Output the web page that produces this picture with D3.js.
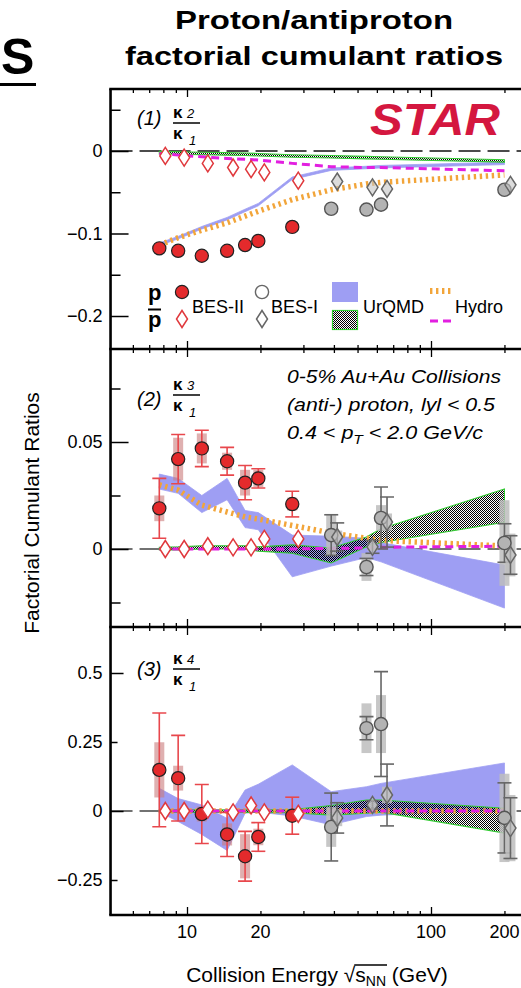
<!DOCTYPE html>
<html><head><meta charset="utf-8">
<script src="https://cdn.jsdelivr.net/npm/d3@7"></script>
<style>
html,body{margin:0;padding:0;background:#fff;}
svg{display:block;}
text{font-family:'Liberation Sans',Arial,Helvetica,sans-serif;}
</style></head><body>
<svg id="chart" width="521" height="988"></svg>
<script>
// ---------------- DATA ----------------
const energyBES2 = [7.7, 9.2, 11.5, 14.6, 17.3, 19.6, 27];
const energyBES1 = [39, 54.4, 62.4, 200];
const energyModel = [7.7, 9.2, 11.5, 14.6, 17.3, 19.6, 27, 39, 54.4, 62.4, 200];
const xMajorTicks = [10, 100];
const xMinorTicks = [6, 7, 8, 9, 20, 30, 40, 50, 60, 70, 80, 90, 200];
const xTickLabels = [10, 20, 100, 200];

// panel 1 : kappa2/kappa1
const c2_p_bes2    = [-0.118, -0.121, -0.127, -0.121, -0.114, -0.109, -0.092];
const c2_pbar_bes2 = [-0.006, -0.008, -0.015, -0.020, -0.022, -0.026, -0.036];
const c2_p_bes1    = [-0.070, -0.071, -0.065, -0.047];
const c2_pbar_bes1 = [-0.037, -0.044, -0.046, -0.041];
const c2_urqmd_p_lo    = [-0.1145, -0.1065, -0.0945, -0.0835, -0.0735, -0.0665, -0.0345, -0.0235, -0.0215, -0.0205, -0.0165];
const c2_urqmd_p_hi    = [-0.1115, -0.1035, -0.0915, -0.0805, -0.0705, -0.0635, -0.0315, -0.0205, -0.0185, -0.0175, -0.0135];
const c2_urqmd_pbar_lo = [-0.0035, -0.004, -0.0045, -0.005, -0.0055, -0.006, -0.0075, -0.0085, -0.0095, -0.010, -0.0135];
const c2_urqmd_pbar_hi = [-0.0005, -0.001, -0.0015, -0.002, -0.0025, -0.003, -0.0045, -0.0055, -0.0065, -0.007, -0.0105];
const c2_hydro_p    = [-0.114, -0.105, -0.096, -0.087, -0.079, -0.073, -0.059, -0.047, -0.040, -0.038, -0.029];
const c2_hydro_pbar = [-0.003, -0.005, -0.007, -0.009, -0.010, -0.011, -0.015, -0.019, -0.020, -0.020, -0.024];
const yMajor1 = [0, -0.1, -0.2];
const yMinor1 = [0.05, -0.05, -0.15];
const yLabels1 = [0, -0.1, -0.2];

// panel 2 : kappa3/kappa1
const c3_p_bes2      = [0.019, 0.042, 0.047, 0.041, 0.031, 0.033, 0.021];
const c3_p_bes2_stat = [0.014, 0.0115, 0.0085, 0.0065, 0.008, 0.0045, 0.006];
const c3_p_bes2_sys  = [0.006, 0.010, 0.007, 0.004, 0.006, 0.004, 0.003];
const c3_pbar_bes2   = [0.000, 0.000, 0.0013, 0.0008, 0.0008, 0.0047, 0.0047];
const c3_p_bes1      = [0.0065, -0.0084, 0.0145, 0.0028];
const c3_p_bes1_stat = [0.0095, 0.004, 0.0145, 0.009];
const c3_p_bes1_sys  = [0.0095, 0.0065, 0.006, 0.020];
const c3_pbar_bes1      = [0.0056, 0.001, 0.0126, -0.0028];
const c3_pbar_bes1_stat = [0.0066, 0.003, 0.0117, 0.009];
const c3_pbar_bes1_sys  = [0.003, 0.002, 0.004, 0.010];
const c3_urqmd_p_lo    = [0.028, 0.026, 0.017, 0.023, 0.010, 0.009, -0.013, -0.008, -0.004, -0.006, -0.0276];
const c3_urqmd_p_hi    = [0.035, 0.033, 0.025, 0.033, 0.018, 0.017, 0.0065, 0.006, 0.005, 0.003, -0.0075];
const c3_urqmd_pbar_lo = [-0.0005, -0.0005, 0.0, 0.0, 0.0, -0.001, -0.002, -0.0065, 0.001, 0.003, 0.0125];
const c3_urqmd_pbar_hi = [0.0008, 0.001, 0.0015, 0.0015, 0.0015, 0.001, 0.002, 0.0005, 0.0056, 0.0095, 0.028];
const c3_hydro_p    = [0.030, 0.0275, 0.0205, 0.0173, 0.015, 0.014, 0.011, 0.0075, 0.005, 0.004, 0.0014];
const c3_hydro_pbar = [0.0, 0.0, 0.0, 0.0, 0.0, 0.0, 0.0, 0.0003, 0.0005, 0.0008, 0.0013];
const yMajor2 = [0, 0.05];
const yMinor2 = [0.075, 0.025, -0.025];
const yLabels2 = [0, 0.05];

// panel 3 : kappa4/kappa1
const c4_p_bes2      = [0.149, 0.119, -0.011, -0.085, -0.164, -0.094, -0.017];
const c4_p_bes2_stat = [0.206, 0.155, 0.107, 0.080, 0.090, 0.052, 0.067];
const c4_p_bes2_sys  = [0.100, 0.045, 0.027, 0.040, 0.080, 0.030, 0.020];
const c4_pbar_bes2   = [0.0, 0.0, 0.005, -0.005, 0.02, -0.005, -0.01];
const c4_p_bes1      = [-0.058, 0.300, 0.315, -0.025];
const c4_p_bes1_stat = [0.123, 0.042, 0.190, 0.127];
const c4_p_bes1_sys  = [0.072, 0.090, 0.105, 0.160];
const c4_pbar_bes1      = [-0.025, 0.022, 0.058, -0.062];
const c4_pbar_bes1_stat = [0.055, 0.015, 0.112, 0.110];
const c4_pbar_bes1_sys  = [0.030, 0.010, 0.030, 0.120];
const c4_urqmd_p_lo    = [-0.004, -0.038, -0.085, -0.143, -0.008, -0.004, -0.018, -0.050, -0.020, -0.015, 0.004];
const c4_urqmd_p_hi    = [0.082, 0.045, 0.022, -0.027, 0.076, 0.097, 0.167, 0.070, 0.088, 0.100, 0.174];
const c4_urqmd_pbar_lo = [-0.005, -0.005, -0.005, -0.005, -0.005, -0.005, -0.006, -0.015, -0.008, -0.004, -0.080];
const c4_urqmd_pbar_hi = [0.004, 0.004, 0.004, 0.004, 0.004, 0.004, 0.005, 0.020, 0.040, 0.040, 0.010];
const c4_hydro_p    = [0, 0, 0, 0, 0, 0, 0, 0, 0, 0, 0];
const c4_hydro_pbar = [0, 0, 0, 0, 0, 0, 0, 0, 0, 0, 0];
const yMajor3 = [0.5, 0];
const yMinor3 = [0.25, -0.25];
const yLabels3 = [0.5, 0.25, 0, -0.25];

// ---------------- DRAWING ----------------
const svg = d3.select('#chart');
const defs = svg.append('defs');
const pat = defs.append('pattern').attr('id', 'hatch').attr('width', 2).attr('height', 2)
  .attr('patternUnits', 'userSpaceOnUse');
pat.append('rect').attr('x', 0).attr('y', 0).attr('width', 1).attr('height', 1).attr('fill', '#000');
pat.append('rect').attr('x', 1).attr('y', 1).attr('width', 1).attr('height', 1).attr('fill', '#000');

const x = d3.scaleLog().domain([10, 100]).range([187, 431]);
const xL = x(4.86), xR = x(260);

const C = {
  red: '#e42a2c', redStroke: '#e8474c', redSys: '#c97b7b',
  grayFill: '#b3b3b3', grayStroke: '#666', graySys: '#bdbdbd',
  blue: '#9e9ef3', green: '#33cc33', orange: '#f2a53a', magenta: '#e21fe0'
};
const DX = 6; // diamond offset

const panels = [
  { top: 89, bottom: 349, y: d3.scaleLinear().domain([0, -0.2]).range([151, 316]),
    major: yMajor1, minor: yMinor1, labels: yLabels1, majorLen: 18, minorLen: 10,
    bandP: [c2_urqmd_p_lo, c2_urqmd_p_hi], bandPbar: [c2_urqmd_pbar_lo, c2_urqmd_pbar_hi],
    hydroP: c2_hydro_p, hydroPbar: c2_hydro_pbar,
    pB2: [c2_p_bes2], pbB2: [c2_pbar_bes2], pB1: [c2_p_bes1], pbB1: [c2_pbar_bes1],
    zeroColor: '#111', n: '2', paren: 125, bar: 123 },
  { top: 349, bottom: 627, y: d3.scaleLinear().domain([0, 0.05]).range([549, 442]),
    major: yMajor2, minor: yMinor2, labels: yLabels2, majorLen: 18, minorLen: 10,
    bandP: [c3_urqmd_p_lo, c3_urqmd_p_hi], bandPbar: [c3_urqmd_pbar_lo, c3_urqmd_pbar_hi],
    hydroP: c3_hydro_p, hydroPbar: c3_hydro_pbar,
    pB2: [c3_p_bes2, c3_p_bes2_stat, c3_p_bes2_sys], pbB2: [c3_pbar_bes2],
    pB1: [c3_p_bes1, c3_p_bes1_stat, c3_p_bes1_sys], pbB1: [c3_pbar_bes1, c3_pbar_bes1_stat, c3_pbar_bes1_sys],
    zeroColor: '#444', n: '3', paren: 406, bar: 395 },
  { top: 627, bottom: 915, y: d3.scaleLinear().domain([0, 0.5]).range([811, 673]),
    major: yMajor3, minor: yMinor3, labels: yLabels3, majorLen: 13, minorLen: 7,
    bandP: [c4_urqmd_p_lo, c4_urqmd_p_hi], bandPbar: [c4_urqmd_pbar_lo, c4_urqmd_pbar_hi],
    hydroP: c4_hydro_p, hydroPbar: c4_hydro_pbar,
    pB2: [c4_p_bes2, c4_p_bes2_stat, c4_p_bes2_sys], pbB2: [c4_pbar_bes2],
    pB1: [c4_p_bes1, c4_p_bes1_stat, c4_p_bes1_sys], pbB1: [c4_pbar_bes1, c4_pbar_bes1_stat, c4_pbar_bes1_sys],
    zeroColor: '#444', n: '4', paren: 676, bar: 669 }
];

const diamondPath = 'M0,-8.5L5.5,0L0,8.5L-5.5,0Z';
const fmt = d => d === 0 ? '0' : String(d).replace('-', '\u2212');

function errorBars(g, y, energies, vals, stat, sys, statColor, sysColor, sysOp, dx) {
  const data = energies.map((e, i) => ({ e, v: vals[i], st: stat ? stat[i] : 0, sy: sys ? sys[i] : 0 }));
  g.selectAll(null).data(data.filter(d => d.sy > 0)).join('rect')
    .attr('x', d => x(d.e) + dx - 5).attr('width', 10)
    .attr('y', d => y(d.v + d.sy)).attr('height', d => y(d.v - d.sy) - y(d.v + d.sy))
    .attr('fill', sysColor).attr('opacity', sysOp);
  const sg = g.selectAll(null).data(data.filter(d => d.st > 0)).join('g')
    .attr('stroke', statColor).attr('stroke-width', 1.6);
  sg.append('line').attr('x1', d => x(d.e) + dx).attr('x2', d => x(d.e) + dx)
    .attr('y1', d => y(d.v + d.st)).attr('y2', d => y(d.v - d.st));
  sg.append('line').attr('x1', d => x(d.e) + dx - 7).attr('x2', d => x(d.e) + dx + 7)
    .attr('y1', d => y(d.v + d.st)).attr('y2', d => y(d.v + d.st));
  sg.append('line').attr('x1', d => x(d.e) + dx - 7).attr('x2', d => x(d.e) + dx + 7)
    .attr('y1', d => y(d.v - d.st)).attr('y2', d => y(d.v - d.st));
}

panels.forEach((P, pi) => {
  const y = P.y;
  const cid = 'clip' + pi;
  defs.append('clipPath').attr('id', cid).append('rect')
    .attr('x', xL).attr('y', P.top).attr('width', xR - xL).attr('height', P.bottom - P.top);
  const g = svg.append('g').attr('clip-path', `url(#${cid})`);

  // zero line
  g.append('line').attr('x1', xL).attr('x2', xR).attr('y1', y(0)).attr('y2', y(0))
    .attr('stroke', P.zeroColor).attr('stroke-width', 1.6).attr('stroke-dasharray', '22,7');

  const bandData = (lo, hi) => energyModel.map((e, i) => ({ e, lo: lo[i], hi: hi[i] }));
  const area = d3.area().x(d => x(d.e)).y0(d => y(d.lo)).y1(d => y(d.hi));
  g.append('path').datum(bandData(P.bandP[0], P.bandP[1])).attr('d', area)
    .attr('fill', C.blue).attr('stroke', C.blue).attr('stroke-width', 0.8);
  g.append('path').datum(bandData(P.bandPbar[0], P.bandPbar[1])).attr('d', area)
    .attr('fill', 'url(#hatch)').attr('stroke', C.green).attr('stroke-width', 1.1);

  const line = d3.line().x(d => x(d.e)).y(d => y(d.v));
  g.append('path').datum(energyModel.map((e, i) => ({ e, v: P.hydroP[i] }))).attr('d', line)
    .attr('fill', 'none').attr('stroke', C.orange).attr('stroke-width', 5.5).attr('stroke-dasharray', '2.4,3.6');
  g.append('path').datum(energyModel.map((e, i) => ({ e, v: P.hydroPbar[i] }))).attr('d', line)
    .attr('fill', 'none').attr('stroke', C.magenta).attr('stroke-width', 3).attr('stroke-dasharray', '8,5');

  // error bars
  errorBars(g, y, energyBES2, P.pB2[0], P.pB2[1], P.pB2[2], C.redStroke, C.redSys, 0.6, 0);
  errorBars(g, y, energyBES1, P.pB1[0], P.pB1[1], P.pB1[2], C.grayStroke, C.graySys, 0.85, 0);
  errorBars(g, y, energyBES1, P.pbB1[0], P.pbB1[1], P.pbB1[2], C.grayStroke, C.graySys, 0.85, DX);

  // markers
  g.selectAll(null).data(energyBES2.map((e, i) => ({ e, v: P.pB2[0][i] }))).join('circle')
    .attr('cx', d => x(d.e)).attr('cy', d => y(d.v)).attr('r', 6.6)
    .attr('fill', C.red).attr('stroke', '#222').attr('stroke-width', 1.2);
  g.selectAll(null).data(energyBES1.map((e, i) => ({ e, v: P.pB1[0][i] }))).join('circle')
    .attr('cx', d => x(d.e)).attr('cy', d => y(d.v)).attr('r', 6.6)
    .attr('fill', C.grayFill).attr('stroke', '#555').attr('stroke-width', 1.4);
  g.selectAll(null).data(energyBES2.map((e, i) => ({ e, v: P.pbB2[0][i] }))).join('path')
    .attr('transform', d => `translate(${x(d.e) + DX},${y(d.v)})`).attr('d', diamondPath)
    .attr('fill', '#fff').attr('stroke', '#e0393d').attr('stroke-width', 1.5);
  g.selectAll(null).data(energyBES1.map((e, i) => ({ e, v: P.pbB1[0][i] }))).join('path')
    .attr('transform', d => `translate(${x(d.e) + DX},${y(d.v)})`).attr('d', diamondPath)
    .attr('fill', '#c4c4c4').attr('fill-opacity', 0.6).attr('stroke', '#666').attr('stroke-width', 1.5);

  // axes
  const ax = svg.append('g');
  const xt = (sel, len, vals, top) => {
    const a = (top ? d3.axisTop(x) : d3.axisBottom(x)).tickValues(vals).tickSize(-len).tickFormat('');
    sel.call(a); sel.select('.domain').remove();
    sel.selectAll('line').attr('stroke', '#000').attr('stroke-width', 1.3);
  };
  xt(ax.append('g').attr('transform', `translate(0,${P.top})`), 8, xMajorTicks, true);
  xt(ax.append('g').attr('transform', `translate(0,${P.top})`), 4, xMinorTicks, true);
  xt(ax.append('g').attr('transform', `translate(0,${P.bottom})`), 8, xMajorTicks, false);
  xt(ax.append('g').attr('transform', `translate(0,${P.bottom})`), 4, xMinorTicks, false);

  const yt = (vals, len) => {
    const s = ax.append('g').attr('transform', `translate(${xL},0)`)
      .call(d3.axisLeft(y).tickValues(vals).tickSize(-len).tickFormat(''));
    s.select('.domain').remove();
    s.selectAll('line').attr('stroke', '#000').attr('stroke-width', 1.5);
  };
  yt(P.major, P.majorLen);
  yt(P.minor, P.minorLen);
  const lab = ax.append('g').attr('transform', `translate(${xL},0)`)
    .call(d3.axisLeft(y).tickValues(P.labels).tickSize(0).tickPadding(8).tickFormat(fmt));
  lab.select('.domain').remove();
  lab.selectAll('text').attr('font-size', 18).attr('fill', '#000')
    .attr('font-family', "'Liberation Sans',Arial,sans-serif");

  // panel label  (n) kappa_n / kappa_1
  const L = svg.append('g');
  L.append('text').attr('x', 137).attr('y', P.paren).attr('font-size', 20).attr('font-style', 'italic').text(`(${pi + 1})`);
  L.append('text').attr('x', 173).attr('y', P.bar - 5).attr('font-size', 17).attr('font-weight', 'bold').text('\u03ba');
  L.append('text').attr('x', 187).attr('y', P.bar - 5).attr('font-size', 13).attr('font-style', 'italic').text(P.n);
  L.append('line').attr('x1', 173).attr('x2', 200).attr('y1', P.bar).attr('y2', P.bar).attr('stroke', '#000').attr('stroke-width', 1.5);
  L.append('text').attr('x', 173).attr('y', P.bar + 16).attr('font-size', 17).attr('font-weight', 'bold').text('\u03ba');
  L.append('text').attr('x', 189).attr('y', P.bar + 22).attr('font-size', 13).attr('font-style', 'italic').text('1');
});

// frame
const fr = svg.append('g').attr('stroke', '#000').attr('stroke-width', 2.6).attr('fill', 'none');
fr.append('line').attr('x1', xL).attr('x2', xL).attr('y1', panels[0].top).attr('y2', panels[2].bottom);
[panels[0].top, panels[1].top, panels[2].top, panels[2].bottom].forEach(yy =>
  fr.append('line').attr('x1', xL - 1.3).attr('x2', 521).attr('y1', yy).attr('y2', yy));

// x tick labels
svg.append('g').selectAll('text').data(xTickLabels).join('text')
  .attr('x', d => x(d)).attr('y', 938).attr('text-anchor', 'middle').attr('font-size', 18).text(d => d);

// x title
const xtt = svg.append('text').attr('x', 317).attr('y', 982).attr('text-anchor', 'middle').attr('font-size', 21);
xtt.append('tspan').text('Collision Energy ');
xtt.append('tspan').text('\u221a');
xtt.append('tspan').text('s');
xtt.append('tspan').attr('font-size', 14).attr('dy', 4).text('NN');
xtt.append('tspan').attr('dy', -4).text(' (GeV)');
{
  const node = xtt.node();
  const iR = 'Collision Energy '.length;
  const r = node.getExtentOfChar(iR);
  const e = node.getExtentOfChar(iR + 3);
  svg.append('line').attr('x1', r.x + r.width - 1).attr('x2', e.x + e.width + 1)
    .attr('y1', r.y + 2).attr('y2', r.y + 2).attr('stroke', '#000').attr('stroke-width', 1.3);
}

// y title
svg.append('text').attr('transform', 'translate(39,513) rotate(-90)').attr('text-anchor', 'middle')
  .attr('font-size', 21).text('Factorial Cumulant Ratios');

// title
const tf = "'DejaVu Sans Condensed','DejaVu Sans',sans-serif";
svg.append('text').attr('x', 175).attr('y', 29).attr('font-family', tf).attr('font-weight', 'bold')
  .attr('font-stretch', 'condensed').attr('font-size', 26).attr('textLength', 278)
  .attr('lengthAdjust', 'spacingAndGlyphs').text('Proton/antiproton');
svg.append('text').attr('x', 125).attr('y', 65).attr('font-family', tf).attr('font-weight', 'bold')
  .attr('font-stretch', 'condensed').attr('font-size', 26).attr('textLength', 378)
  .attr('lengthAdjust', 'spacingAndGlyphs').text('factorial cumulant ratios');
// cut heading fragment
svg.append('text').attr('x', 1).attr('y', 74).attr('font-family', "'Open Sans','DejaVu Sans',sans-serif")
  .attr('font-weight', 'bold').attr('font-size', 50).text('S');
svg.append('rect').attr('x', 0).attr('y', 83).attr('width', 36).attr('height', 3).attr('fill', '#000');

// STAR
svg.append('text').attr('x', 370).attr('y', 135).attr('font-size', 45).attr('font-weight', 'bold')
  .attr('font-style', 'italic').attr('fill', '#d4173f').attr('textLength', 130)
  .attr('lengthAdjust', 'spacingAndGlyphs').text('STAR');

// annotation panel 2
const ann = ['0-5% Au+Au Collisions', '(anti-) proton, lyl < 0.5'];
const annW = [214, 208];
ann.forEach((t, i) => svg.append('text').attr('x', 287).attr('y', 383 + i * 28)
  .attr('font-size', 18).attr('font-style', 'italic')
  .attr('textLength', annW[i]).attr('lengthAdjust', 'spacingAndGlyphs').text(t));
{
  const t3 = svg.append('text').attr('x', 287).attr('y', 439).attr('font-size', 18).attr('font-style', 'italic')
    .attr('textLength', 196).attr('lengthAdjust', 'spacingAndGlyphs');
  t3.append('tspan').text('0.4 < p');
  t3.append('tspan').attr('dy', 5).attr('font-size', 13).text('T');
  t3.append('tspan').attr('dy', -5).text(' < 2.0 GeV/c');
}

// legend
const lg = svg.append('g');
lg.append('text').attr('x', 148).attr('y', 300).attr('font-size', 22).attr('font-weight', 'bold').text('p');
lg.append('text').attr('x', 148).attr('y', 327).attr('font-size', 22).attr('font-weight', 'bold').text('p');
lg.append('line').attr('x1', 148).attr('x2', 161).attr('y1', 309.5).attr('y2', 309.5).attr('stroke', '#000').attr('stroke-width', 2);
lg.append('circle').attr('cx', 182).attr('cy', 292).attr('r', 6.6).attr('fill', C.red).attr('stroke', '#222').attr('stroke-width', 1.2);
lg.append('path').attr('transform', 'translate(182,319)').attr('d', diamondPath).attr('fill', '#fff').attr('stroke', '#e0393d').attr('stroke-width', 1.5);
lg.append('text').attr('x', 192).attr('y', 313).attr('font-size', 18).text('BES-II');
lg.append('circle').attr('cx', 262).attr('cy', 292).attr('r', 6.6).attr('fill', '#fff').attr('stroke', '#666').attr('stroke-width', 1.4);
lg.append('path').attr('transform', 'translate(262,319)').attr('d', diamondPath).attr('fill', '#fff').attr('stroke', '#666').attr('stroke-width', 1.5);
lg.append('text').attr('x', 271).attr('y', 313).attr('font-size', 18).text('BES-I');
lg.append('rect').attr('x', 332).attr('y', 282).attr('width', 26).attr('height', 20).attr('fill', C.blue);
lg.append('rect').attr('x', 332.5).attr('y', 310.5).attr('width', 25).attr('height', 19).attr('fill', 'url(#hatch)').attr('stroke', C.green).attr('stroke-width', 1.2);
lg.append('text').attr('x', 363).attr('y', 313).attr('font-size', 18).text('UrQMD');
lg.append('line').attr('x1', 430).attr('x2', 452).attr('y1', 291).attr('y2', 291).attr('stroke', C.orange).attr('stroke-width', 6).attr('stroke-dasharray', '2.4,3.6');
lg.append('line').attr('x1', 430).attr('x2', 452).attr('y1', 321).attr('y2', 321).attr('stroke', C.magenta).attr('stroke-width', 3).attr('stroke-dasharray', '8,5');
lg.append('text').attr('x', 455).attr('y', 313).attr('font-size', 18).text('Hydro');
</script>
</body></html>
